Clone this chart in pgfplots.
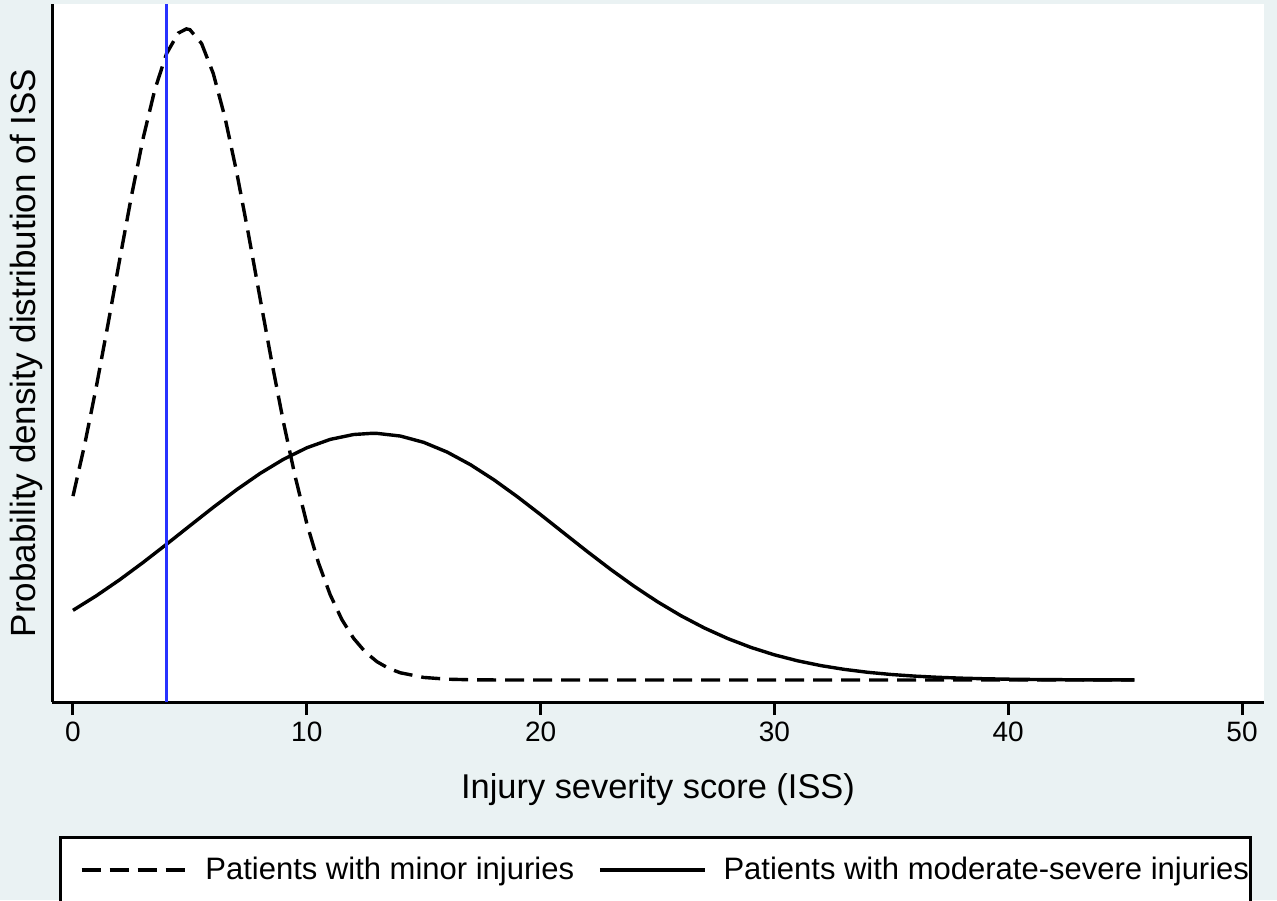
\documentclass[border=0pt]{standalone}
\usepackage{fontspec}
\setmainfont{Liberation Sans}
\usepackage{pgfplots}
\pgfplotsset{compat=1.18}
\definecolor{bgc}{HTML}{EAF2F3}
\definecolor{vline}{RGB}{40,50,255}

% normal densities of ISS: minor injuries N(4.85, 3.05), moderate-severe N(12.8, 8.05)
\begin{document}
\begin{tikzpicture}
% page 1277 x 900 px, 0.5pt per px
\useasboundingbox (0,0) rectangle (638.5pt,450pt);
\fill[bgc] (0,0) rectangle (638.5pt,450pt);
% legend frame (cut off at the bottom of the page)
\filldraw[fill=white, draw=black, line width=1.5pt] (30pt,31.5pt) rectangle (625pt,-10pt);
\begin{axis}[
    at={(26pt,99pt)}, anchor=south west,
    scale only axis, width=606pt, height=349pt,
    xmin=-0.898, xmax=50.94,
    ymin=-0.00442, ymax=0.1358,
    axis x line*=bottom, axis y line*=left,
    axis line style={-, line width=1.5pt, black},
    axis background/.style={fill=white},
    xtick={0,10,20,30,40,50}, ytick=\empty,
    tick align=outside, major tick length=6.5pt,
    x tick style={line width=1.5pt, black},
    /pgf/number format/assume math mode=true,
    xticklabel style={font=\fontsize{14pt}{16pt}\selectfont, anchor=north, inner sep=0pt, yshift=-3.5pt},
    xlabel={Injury severity score (ISS)},
    ylabel={Probability density distribution of ISS},
    every axis x label/.style={at={(axis description cs:0.5,0)}, anchor=base, yshift=-48pt,
        font=\fontsize{17.2pt}{20pt}\selectfont},
    every axis y label/.style={at={(axis description cs:-0.01403,0.5)}, anchor=base, rotate=90,
        font=\fontsize{17.5pt}{20pt}\selectfont},
    legend columns=2,
    legend cell align=left,
    legend image code/.code={\draw[#1] (0pt,0pt) -- (52.5pt,0pt);},
    legend style={at={(axis description cs:0.0231,-0.2407)}, anchor=west,
        draw=none, fill=none, inner sep=0pt, outer sep=0pt,
        font=\fontsize{15.5pt}{18pt}\selectfont,
        nodes={inner sep=0pt},
        /tikz/every odd column/.append style={column sep=8.5pt},
        /tikz/every even column/.append style={column sep=12pt}},
]
\addplot[black, line width=1.7pt, dash pattern=on 9.5pt off 4.5pt] coordinates {
(0,0.03694) (0.5,0.04730) (1,0.05897) (1.5,0.07155) (2,0.08452) (2.5,0.09721)
(3,0.10883) (3.5,0.11860) (4,0.12582) (4.5,0.12994) (4.85,0.13080) (5,0.13064)
(5.5,0.12786) (6,0.12183) (6.5,0.11299) (7,0.10202) (7.5,0.08968) (8,0.07673)
(8.5,0.06392) (9,0.05183) (9.5,0.04091) (10,0.03144) (10.5,0.02352) (11,0.01713)
(11.5,0.01214) (12,0.00838) (12.5,0.00563) (13,0.00368) (13.5,0.00234) (14,0.00145)
(15,0.000515) (16,0.000164) (17,0.0000468) (18,0.00001) (19,0) (25,0) (30,0)
(35,0) (40,0) (45.4,0)
};
\addlegendentry{Patients with minor injuries}
\addplot[black, line width=1.7pt] coordinates {
(0,0.013999) (1,0.016925) (2,0.020149) (3,0.023621) (4,0.027266) (5,0.030991)
(6,0.034687) (7,0.038229) (8,0.041487) (9,0.044333) (10,0.046649) (11,0.048334)
(12,0.049314) (12.8,0.049558) (13,0.049543) (14,0.049010) (15,0.047741) (16,0.045793)
(17,0.043252) (18,0.040227) (19,0.036839) (20,0.033220) (21,0.029499) (22,0.025793)
(23,0.022206) (24,0.018826) (25,0.015715) (26,0.012920) (27,0.010458) (28,0.008335)
(29,0.006541) (30,0.005054) (31,0.003846) (32,0.002882) (33,0.002127) (34,0.001545)
(35,0.001106) (36,0.000779) (37,0.000540) (38,0.000369) (39,0.000248) (40,0.000164)
(41,0.000107) (42,0.0000688) (43,0.0000436) (44,0.0000271) (45,0.0000166) (45.4,0.000014)
};
\addlegendentry{Patients with moderate-severe injuries}
% cut-off line at ISS = 4
\addplot[vline, line width=1.5pt, forget plot] coordinates {(4,-0.00442) (4,0.1358)};
\end{axis}
\end{tikzpicture}
\end{document}
